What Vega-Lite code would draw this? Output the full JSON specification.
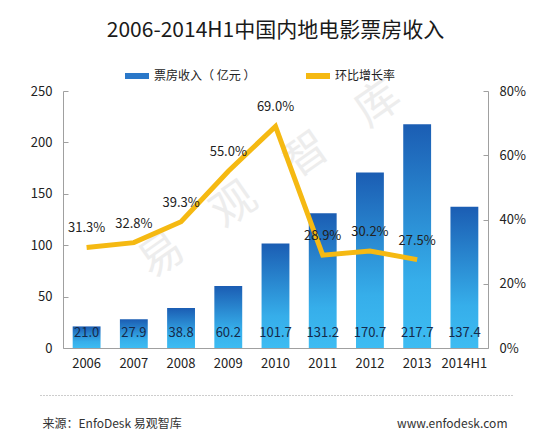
{
  "$schema": "https://vega.github.io/schema/vega-lite/v6.json",
  "width": 425,
  "height": 257,
  "autosize": "none",
  "padding": {"left": 63, "top": 91, "right": 65, "bottom": 97},
  "background": "white",
  "config": {"font": "Noto Sans CJK SC", "view": {"stroke": null}},
  "title": {"text": "2006-2014H1中国内地电影票房收入", "fontSize": 21, "fontWeight": "normal", "color": "#1a1a1a", "anchor": "middle", "frame": "group", "offset": 0, "dy": -20},
  "datasets": {
    "box": [
      {"year": "2006", "revenue": 21.0, "growth": 0.313},
      {"year": "2007", "revenue": 27.9, "growth": 0.328},
      {"year": "2008", "revenue": 38.8, "growth": 0.393},
      {"year": "2009", "revenue": 60.2, "growth": 0.55},
      {"year": "2010", "revenue": 101.7, "growth": 0.69},
      {"year": "2011", "revenue": 131.2, "growth": 0.289},
      {"year": "2012", "revenue": 170.7, "growth": 0.302},
      {"year": "2013", "revenue": 217.7, "growth": 0.275},
      {"year": "2014H1", "revenue": 137.4, "growth": null}
    ]
  },
  "data": {"name": "box"},
  "layer": [
    {
      "layer": [
        {
          "layer": [
            {
              "mark": {"type": "bar", "color": {"gradient": "linear", "x1": 0, "y1": 0, "x2": 0, "y2": 1, "stops": [{"offset": 0, "color": "#1b5db3"}, {"offset": 0.7, "color": "#36aeea"}, {"offset": 1, "color": "#3dbcf2"}]}},
              "encoding": {
                "x": {"field": "year", "type": "ordinal", "scale": {"paddingInner": 0.41},
                  "axis": {"labelAngle": 0, "ticks": false, "domainColor": "#a0a0a0", "labelPadding": 9, "labelFontSize": 13, "labelColor": "#222",
                    "title": "来源：EnfoDesk 易观智库", "titleX": -21, "titleY": 75, "titleAlign": "left", "titleBaseline": "middle", "titleFontSize": 12, "titleFontWeight": "normal", "titleColor": "#333"}},
                "y": {"field": "revenue", "type": "quantitative", "scale": {"domain": [0, 250], "nice": false},
                  "axis": {"values": [0, 50, 100, 150, 200, 250], "domainColor": "#a0a0a0", "tickColor": "#a0a0a0", "tickSize": -5, "labelPadding": 16, "labelFontSize": 13, "labelColor": "#222", "grid": false,
                    "title": "易　观　智　库", "titleAngle": -35, "titleX": 207, "titleY": 89, "titleAlign": "center", "titleBaseline": "middle", "titleFontSize": 44, "titleColor": "#ededed", "titleFontWeight": "normal"}}
              }
            },
            {
              "mark": {"type": "text", "dy": -15, "fontSize": 13, "color": "#15294a"},
              "encoding": {
                "x": {"field": "year", "type": "ordinal"},
                "y": {"datum": 0, "type": "quantitative"},
                "text": {"field": "revenue", "type": "quantitative", "format": ".1f"}
              }
            }
          ]
        },
        {
          "transform": [{"filter": "datum.growth != null"}],
          "layer": [
            {
              "mark": {"type": "line", "strokeWidth": 5},
              "encoding": {
                "x": {"field": "year", "type": "ordinal"},
                "y": {"field": "growth", "type": "quantitative", "scale": {"domain": [0, 0.8], "nice": false},
                  "axis": {"orient": "right", "values": [0, 0.2, 0.4, 0.6, 0.8], "format": ".0%", "domainColor": "#a0a0a0", "tickColor": "#a0a0a0", "tickSize": -5, "labelPadding": 16, "labelFontSize": 13, "labelColor": "#222", "grid": false,
                    "title": "www.enfodesk.com", "titleAngle": 0, "titleX": 19, "titleY": 332, "titleAlign": "right", "titleBaseline": "middle", "titleFontSize": 12, "titleFontWeight": "normal", "titleColor": "#333"}},
                "color": {"datum": "环比增长率", "type": "nominal",
                  "scale": {"domain": ["票房收入（ 亿元 ）", "环比增长率"], "range": ["#2a78c9", "#f5b912"]},
                  "legend": {"orient": "none", "legendX": 59, "legendY": -30, "direction": "horizontal", "title": null, "symbolType": "stroke", "symbolStrokeWidth": 6, "symbolSize": 576, "labelFontSize": 12, "labelColor": "#222", "columnPadding": 38, "labelOffset": 2}}
              }
            },
            {
              "mark": {"type": "text", "dy": -19, "fontSize": 13, "color": "#222"},
              "encoding": {
                "x": {"field": "year", "type": "ordinal"},
                "y": {"field": "growth", "type": "quantitative"},
                "text": {"field": "growth", "type": "quantitative", "format": ".1%"}
              }
            }
          ]
        }
      ],
      "resolve": {"scale": {"y": "independent"}}
    },
    {
      "mark": {"type": "point", "opacity": 0},
      "encoding": {
        "x": {"datum": 0, "type": "quantitative", "scale": {"domain": [0, 1], "range": [-23, 449]},
          "axis": {"orient": "bottom", "offset": 47, "labels": false, "ticks": false, "grid": false, "domainDash": [1, 2], "domainColor": "#9a9a9a", "title": null}}
      }
    }
  ],
  "resolve": {"scale": {"x": "independent"}}
}
